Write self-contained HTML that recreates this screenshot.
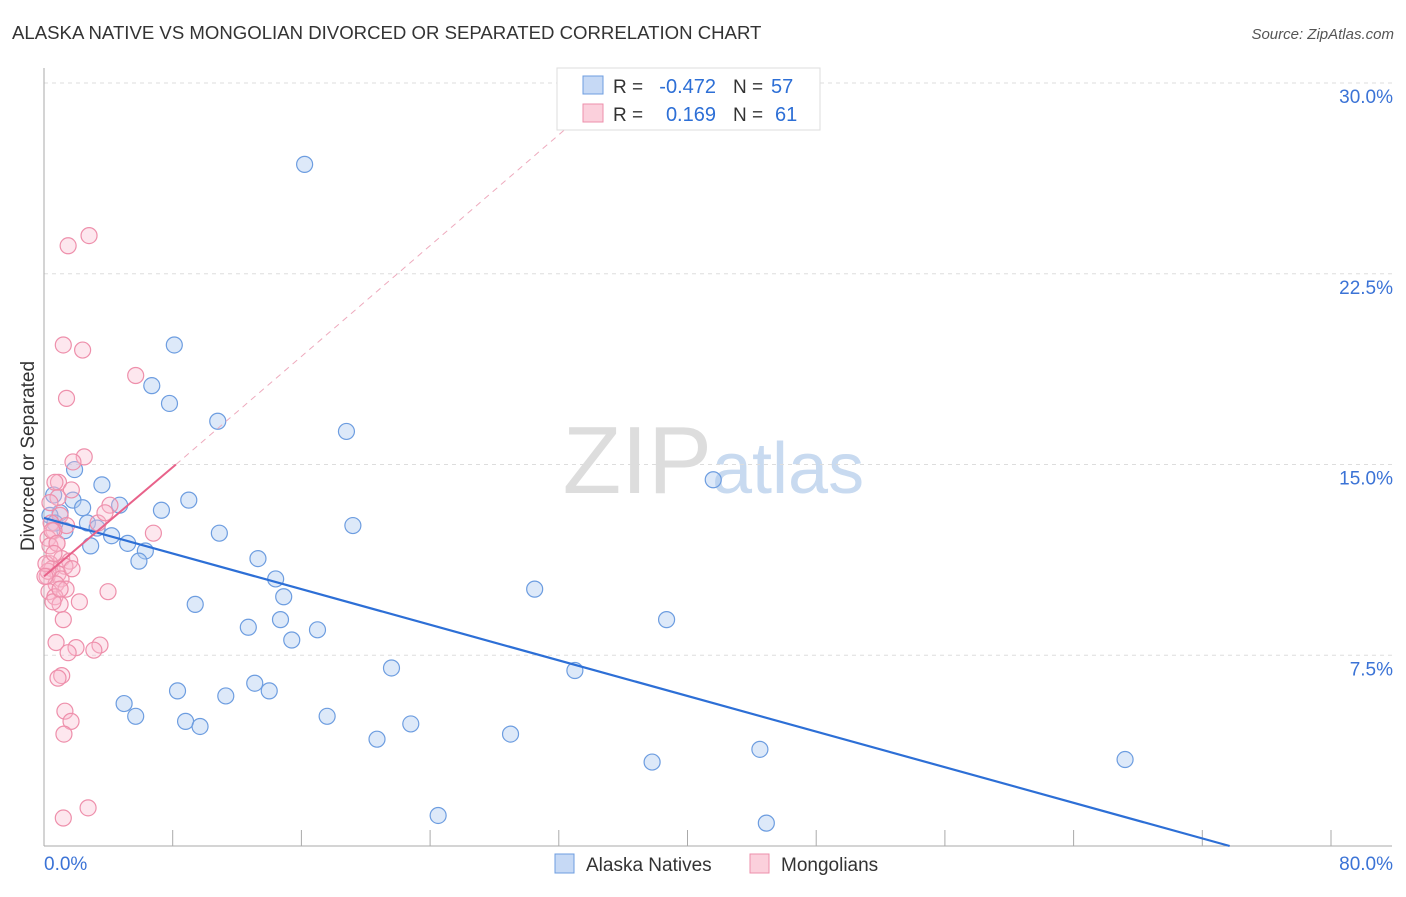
<!DOCTYPE html>
<html><head><meta charset="utf-8"><style>
body{margin:0;background:#fff;font-family:"Liberation Sans",sans-serif;}
svg text{font-family:"Liberation Sans",sans-serif;}
</style></head><body>
<svg width="1406" height="892" id="chart">
<text x="12" y="39" font-size="18.6" fill="#333">ALASKA NATIVE VS MONGOLIAN DIVORCED OR SEPARATED CORRELATION CHART</text>
<text x="1394" y="39" font-size="15" fill="#555" text-anchor="end" font-style="italic">Source: ZipAtlas.com</text>
<text x="712" y="493" font-size="96" fill="#ddd" text-anchor="end" font-family="Liberation Serif">ZIP</text>
<text x="712" y="493" font-size="72" fill="#c8daf0">atlas</text>
<text transform="translate(34,456) rotate(-90)" font-size="19" fill="#333" text-anchor="middle">Divorced or Separated</text>
<g id="grid"></g><g id="pts"></g><g id="lines"></g>
<g>
<rect x="557" y="68" width="263" height="62" fill="#fff" stroke="#ddd"/>
<rect x="583" y="76" width="20" height="18" fill="#c6d9f5" stroke="#6d9de0"/>
<rect x="583" y="104" width="20" height="18" fill="#fbd0dc" stroke="#ee8fab"/>
<text x="613" y="93" font-size="19" fill="#333">R =</text>
<text x="716" y="93" font-size="20" fill="#2d6fd6" text-anchor="end">-0.472</text>
<text x="733" y="93" font-size="19" fill="#333">N =</text>
<text x="771" y="93" font-size="20" fill="#2d6fd6">57</text>
<text x="613" y="121" font-size="19" fill="#333">R =</text>
<text x="716" y="121" font-size="20" fill="#2d6fd6" text-anchor="end">0.169</text>
<text x="733" y="121" font-size="19" fill="#333">N =</text>
<text x="775" y="121" font-size="20" fill="#2d6fd6">61</text>
</g>
<g>
<rect x="555" y="854" width="19" height="19" fill="#c6d9f5" stroke="#6d9de0"/>
<text x="586" y="871" font-size="19" fill="#333">Alaska Natives</text>
<rect x="750" y="854" width="19" height="19" fill="#fbd0dc" stroke="#ee8fab"/>
<text x="781" y="871" font-size="19" fill="#333">Mongolians</text>
</g>
</svg>
<script>
const yTicks=[30,22.5,15,7.5];
const yTickLabels=["30.0%","22.5%","15.0%","7.5%"];
const blueX=[16.2,8.1,6.7,7.8,10.8,18.8,1.9,41.6,3.6,0.6,1.8,9.0,4.7,2.4,7.3,1.0,2.7,3.3,19.2,1.3,10.9,4.2,2.9,5.2,6.3,5.9,13.3,14.4,14.9,30.5,9.4,14.7,38.7,12.7,17.0,15.4,21.6,33.0,8.3,13.1,14.0,11.3,4.98,5.7,17.6,8.8,9.7,22.8,29.0,20.7,44.5,37.8,67.2,24.5,44.9,0.37,0.68];
const blueY=[26.8,19.7,18.1,17.4,16.7,16.3,14.8,14.4,14.2,13.8,13.6,13.6,13.4,13.3,13.2,13.1,12.7,12.5,12.6,12.4,12.3,12.2,11.8,11.9,11.6,11.2,11.3,10.5,9.8,10.1,9.5,8.9,8.9,8.6,8.5,8.1,7.0,6.9,6.1,6.4,6.1,5.9,5.6,5.1,5.1,4.9,4.7,4.8,4.4,4.2,3.8,3.3,3.4,1.2,0.9,13.0,12.7];
const pinkX=[2.8,1.5,1.2,2.4,5.7,1.4,2.5,1.8,0.9,1.7,0.68,1.0,0.44,1.4,0.62,6.8,4.1,0.25,0.81,1.1,1.6,0.37,0.5,1.3,0.87,0.19,1.06,0.75,1.37,0.31,0.68,3.98,2.2,1.0,1.2,0.75,1.99,3.48,3.1,1.5,1.1,0.87,1.3,1.68,1.24,2.74,1.2,0.25,0.37,0.56,0.12,0.5,0.81,0.06,0.62,1.0,1.74,0.87,3.36,3.79,0.37];
const pinkY=[24.0,23.6,19.7,19.5,18.5,17.6,15.3,15.1,14.3,14.0,14.3,13.0,12.7,12.6,12.4,12.3,13.4,12.1,11.9,11.3,11.2,11.1,10.9,11.0,10.7,10.6,10.5,10.3,10.1,10.0,9.8,10.0,9.6,9.5,8.9,8.0,7.8,7.9,7.7,7.6,6.7,6.6,5.3,4.9,4.4,1.5,1.1,10.8,11.8,9.6,11.1,12.4,11.9,10.6,11.5,10.1,10.9,13.7,12.7,13.1,13.5];
const NS="http://www.w3.org/2000/svg";
const X0=44,X1=1331,Y0=846,Y30=83;
const xs=v=>X0+v/80*(X1-X0);
const ys=v=>Y0-v/30*(Y0-Y30);
const grid=document.getElementById('grid'),pts=document.getElementById('pts'),lines=document.getElementById('lines');
function mk(t,a,p){const e=document.createElementNS(NS,t);for(const k in a)e.setAttribute(k,a[k]);p.appendChild(e);return e;}
yTicks.forEach((t,i)=>{
 const l=mk('line',{x1:X0,x2:1392,y1:ys(t),y2:ys(t),stroke:'#ddd','stroke-dasharray':'4,4'},grid);
 
 
 const tx=mk('text',{x:1393,y:ys(t)+20,'font-size':19,fill:'#3b73d6','text-anchor':'end'},grid);
 tx.textContent=yTickLabels[i];
 
 
});
const ax=mk('line',{x1:X0,x2:X0,y1:68,y2:Y0,stroke:'#aaa'},grid);


const bx=mk('line',{x1:X0,x2:1392,y1:Y0,y2:Y0,stroke:'#aaa'},grid);


for(let i=1;i<=10;i++){const t=mk('line',{x1:xs(i*8),x2:xs(i*8),y1:830,y2:Y0,stroke:'#aaa'},grid);
 
 }
[["0.0%",44,'start'],["80.0%",1393,'end']].forEach(d=>{const t=mk('text',{x:d[1],y:870,'font-size':19,fill:'#3b73d6','text-anchor':d[2]},grid);t.textContent=d[0];
 
 });
blueX.forEach((v,i)=>{const c=mk('circle',{cx:xs(v),cy:ys(blueY[i]),r:8,fill:'rgba(170,200,240,0.4)',stroke:'#6d9de0','stroke-width':1.2},pts);
 
 });
pinkX.forEach((v,i)=>{const c=mk('circle',{cx:xs(v),cy:ys(pinkY[i]),r:8,fill:'rgba(248,185,205,0.35)',stroke:'#ee8fab','stroke-width':1.2},pts);
 
 });
const bl=mk('line',{x1:xs(0),y1:ys(12.9),x2:xs(73.7),y2:ys(0),stroke:'#2d6fd6','stroke-width':2.2},lines);


const pl=mk('line',{x1:xs(0),y1:ys(10.6),x2:xs(8.2),y2:ys(15.0),stroke:'#e8628a','stroke-width':2},lines);


const pd=mk('line',{x1:xs(8.2),y1:ys(15.0),x2:xs(32.8),y2:ys(28.4),stroke:'#eeaabd','stroke-width':1,'stroke-dasharray':'6,5'},lines);


</script>
</body></html>
